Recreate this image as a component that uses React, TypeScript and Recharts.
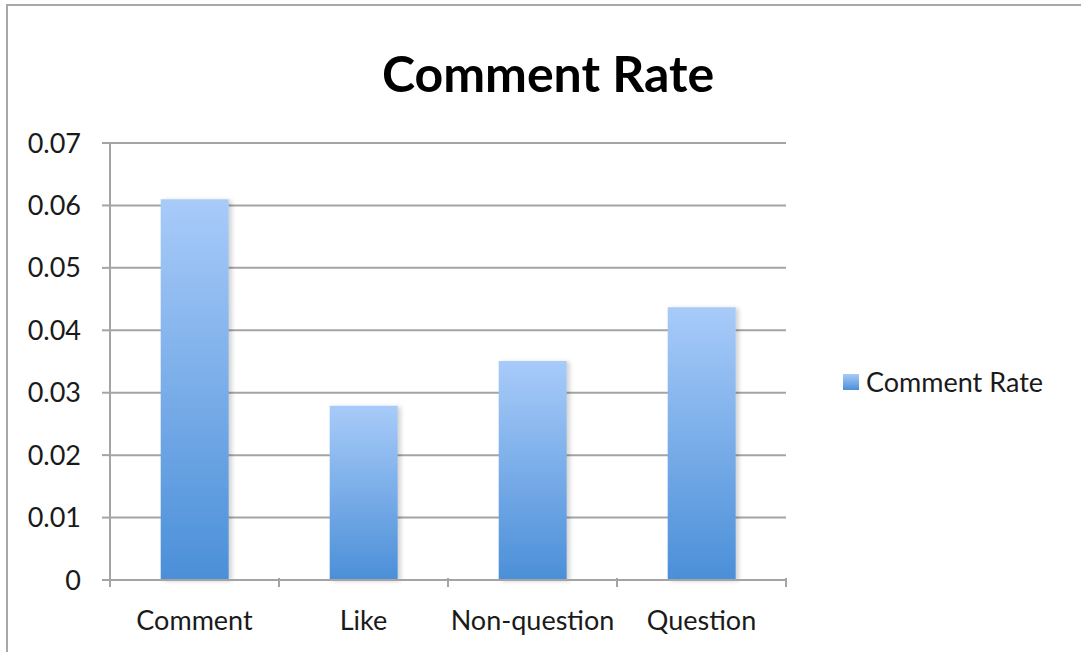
import React from "react";
import {
  BarChart,
  Bar,
  XAxis,
  YAxis,
  CartesianGrid,
  Legend,
} from "recharts";

const categories = ["Comment", "Like", "Non-question", "Question"];
const commentRate = [0.061, 0.0279, 0.0351, 0.0437];
const yTicks = [0, 0.01, 0.02, 0.03, 0.04, 0.05, 0.06, 0.07];
const seriesName = "Comment Rate";

const data = categories.map((name, i) => ({ name, rate: commentRate[i] }));

const FONT = "Lato, 'Liberation Sans', sans-serif";
const GRID = "#a4a4a4";

function formatY(v: number): string {
  return v === 0 ? "0" : v.toFixed(2);
}

// category label plus tick marks at the band edges (Excel style)
function CategoryTick(props: any) {
  const { x, y, payload, index, visibleTicksCount } = props;
  const half = payload?.offset ?? 84.5;
  const axisY = y - 8 - 2;
  const last = index === (visibleTicksCount ?? categories.length) - 1;
  return (
    <g>
      <line x1={x - half} x2={x - half} y1={axisY} y2={axisY + 9} stroke={GRID} strokeWidth={2} />
      {last && (
        <line x1={x + half} x2={x + half} y1={axisY} y2={axisY + 9} stroke={GRID} strokeWidth={2} />
      )}
      <text x={x} y={axisY + 52} textAnchor="middle" fontSize={27} fill="#1a1a1a" fontFamily={FONT}>
        {payload.value}
      </text>
    </g>
  );
}

function LegendBox() {
  return (
    <div style={{ display: "flex", alignItems: "center", fontFamily: FONT, fontSize: 27, color: "#1a1a1a", lineHeight: "32px" }}>
      <span
        style={{
          display: "inline-block",
          width: 16,
          height: 16,
          marginRight: 7,
          background: "linear-gradient(#a8cbf9, #4b8fd8)",
        }}
      />
      {seriesName}
    </div>
  );
}

export default function App() {
  return (
    <div style={{ position: "fixed", left: 0, top: 0, width: 1081, height: 652, overflow: "hidden", background: "#fff" }}>
      <div
        style={{
          position: "absolute",
          left: 6,
          top: 4,
          width: 1090,
          height: 670,
          borderTop: "2px solid #a8a8a8",
          borderLeft: "2px solid #a8a8a8",
        }}
      />
      <div
        style={{
          position: "absolute",
          left: 0,
          top: 43,
          width: 1096,
          textAlign: "center",
          fontFamily: FONT,
          fontWeight: 700,
          fontSize: 50,
          lineHeight: "60px",
          color: "#000",
        }}
      >
        Comment Rate
      </div>
      <div style={{ position: "absolute", left: 0, top: 0 }}>
        <BarChart
          width={1081}
          height={652}
          data={data}
          margin={{ top: 143, right: 295, bottom: 0, left: 0 }}
          barCategoryGap="30%"
        >
          <defs>
            <linearGradient id="barFill" x1="0" y1="0" x2="0" y2="1">
              <stop offset="0%" stopColor="#a8cbf9" />
              <stop offset="100%" stopColor="#4b8fd8" />
            </linearGradient>
            <filter id="barShadow" x="-10%" y="-5%" width="130%" height="110%">
              <feDropShadow dx="3" dy="1" stdDeviation="2" floodColor="#000" floodOpacity="0.18" />
            </filter>
          </defs>
          <CartesianGrid vertical={false} stroke={GRID} strokeWidth={2} />
          <XAxis
            dataKey="name"
            height={72}
            axisLine={{ stroke: GRID, strokeWidth: 2 }}
            tickLine={false}
            tick={<CategoryTick />}
            interval={0}
          />
          <YAxis
            width={110}
            domain={[0, 0.07]}
            ticks={yTicks}
            tickFormatter={formatY}
            axisLine={{ stroke: GRID, strokeWidth: 2 }}
            tickLine={{ stroke: GRID, strokeWidth: 2 }}
            tickSize={8}
            tickMargin={21}
            tick={{ fontSize: 27, fill: "#1a1a1a", fontFamily: FONT }}
            interval={0}
          />
          <Legend
            layout="vertical"
            align="center"
            verticalAlign="middle"
            content={<LegendBox />}
            wrapperStyle={{ position: "absolute", left: 843, top: 366, width: 235 }}
          />
          <Bar
            dataKey="rate"
            name={seriesName}
            fill="url(#barFill)"
            filter="url(#barShadow)"
            isAnimationActive={false}
          />
        </BarChart>
      </div>
    </div>
  );
}
